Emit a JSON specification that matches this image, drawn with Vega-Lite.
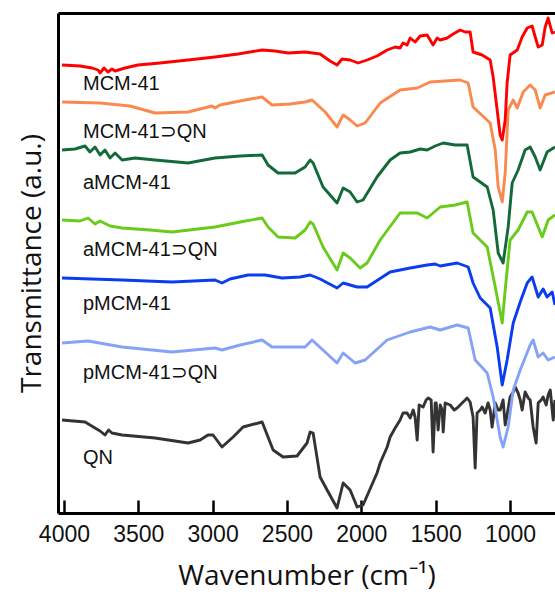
{
  "$schema": "https://vega.github.io/schema/vega-lite/v6.json",
  "width": 497,
  "height": 500,
  "autosize": {"type": "none"},
  "padding": {"left": 58, "top": 13, "right": 0, "bottom": 91},
  "background": "white",
  "config": {"view": {"stroke": null}},
  "datasets": {
    "labels": [
      {"t": "MCM-41", "x": 3872, "y": 429},
      {"t": "MCM-41⊃QN", "x": 3872, "y": 381},
      {"t": "aMCM-41", "x": 3872, "y": 330},
      {"t": "aMCM-41⊃QN", "x": 3872, "y": 263},
      {"t": "pMCM-41", "x": 3872, "y": 209},
      {"t": "pMCM-41⊃QN", "x": 3872, "y": 140},
      {"t": "QN", "x": 3872, "y": 55}
    ],
    "spectra": [
      {"s":"QN","x":4013,"y":93},{"s":"QN","x":3858,"y":91},{"s":"QN","x":3791,"y":85},{"s":"QN","x":3757,"y":82},{"s":"QN","x":3724,"y":78},{"s":"QN","x":3700,"y":83},{"s":"QN","x":3677,"y":80},{"s":"QN","x":3609,"y":78},{"s":"QN","x":3387,"y":75},{"s":"QN","x":3165,"y":70},{"s":"QN","x":3084,"y":73},{"s":"QN","x":3031,"y":78},{"s":"QN","x":2997,"y":78},{"s":"QN","x":2937,"y":66},{"s":"QN","x":2862,"y":76},{"s":"QN","x":2795,"y":86},{"s":"QN","x":2667,"y":91},{"s":"QN","x":2593,"y":63},{"s":"QN","x":2526,"y":56},{"s":"QN","x":2432,"y":57},{"s":"QN","x":2365,"y":70},{"s":"QN","x":2344,"y":81},{"s":"QN","x":2324,"y":80},{"s":"QN","x":2277,"y":36},{"s":"QN","x":2230,"y":23},{"s":"QN","x":2163,"y":5},{"s":"QN","x":2122,"y":30},{"s":"QN","x":2075,"y":23},{"s":"QN","x":2028,"y":6},{"s":"QN","x":1988,"y":8},{"s":"QN","x":1894,"y":40},{"s":"QN","x":1873,"y":50},{"s":"QN","x":1826,"y":66},{"s":"QN","x":1806,"y":76},{"s":"QN","x":1772,"y":85},{"s":"QN","x":1739,"y":93},{"s":"QN","x":1719,"y":100},{"s":"QN","x":1692,"y":100},{"s":"QN","x":1671,"y":95},{"s":"QN","x":1651,"y":103},{"s":"QN","x":1638,"y":96},{"s":"QN","x":1624,"y":73},{"s":"QN","x":1611,"y":108},{"s":"QN","x":1584,"y":106},{"s":"QN","x":1564,"y":113},{"s":"QN","x":1550,"y":115},{"s":"QN","x":1530,"y":113},{"s":"QN","x":1517,"y":61},{"s":"QN","x":1503,"y":110},{"s":"QN","x":1496,"y":110},{"s":"QN","x":1483,"y":83},{"s":"QN","x":1469,"y":108},{"s":"QN","x":1456,"y":103},{"s":"QN","x":1449,"y":81},{"s":"QN","x":1436,"y":110},{"s":"QN","x":1402,"y":108},{"s":"QN","x":1375,"y":103},{"s":"QN","x":1355,"y":105},{"s":"QN","x":1335,"y":108},{"s":"QN","x":1322,"y":110},{"s":"QN","x":1301,"y":113},{"s":"QN","x":1288,"y":115},{"s":"QN","x":1268,"y":111},{"s":"QN","x":1248,"y":96},{"s":"QN","x":1234,"y":45},{"s":"QN","x":1221,"y":100},{"s":"QN","x":1200,"y":103},{"s":"QN","x":1187,"y":106},{"s":"QN","x":1167,"y":100},{"s":"QN","x":1147,"y":110},{"s":"QN","x":1133,"y":103},{"s":"QN","x":1120,"y":86},{"s":"QN","x":1099,"y":110},{"s":"QN","x":1079,"y":103},{"s":"QN","x":1066,"y":103},{"s":"QN","x":1046,"y":113},{"s":"QN","x":1032,"y":88},{"s":"QN","x":1019,"y":98},{"s":"QN","x":999,"y":116},{"s":"QN","x":978,"y":121},{"s":"QN","x":965,"y":126},{"s":"QN","x":945,"y":120},{"s":"QN","x":931,"y":113},{"s":"QN","x":918,"y":103},{"s":"QN","x":898,"y":121},{"s":"QN","x":877,"y":115},{"s":"QN","x":864,"y":113},{"s":"QN","x":844,"y":86},{"s":"QN","x":824,"y":70},{"s":"QN","x":810,"y":110},{"s":"QN","x":790,"y":113},{"s":"QN","x":777,"y":116},{"s":"QN","x":756,"y":108},{"s":"QN","x":743,"y":118},{"s":"QN","x":729,"y":123},{"s":"QN","x":709,"y":93},{"s":"QN","x":697,"y":113},

      {"s":"pMCM-41⊃QN","x":4013,"y":170},{"s":"pMCM-41⊃QN","x":3838,"y":172},{"s":"pMCM-41⊃QN","x":3609,"y":166},{"s":"pMCM-41⊃QN","x":3273,"y":161},{"s":"pMCM-41⊃QN","x":2984,"y":165},{"s":"pMCM-41⊃QN","x":2937,"y":163},{"s":"pMCM-41⊃QN","x":2815,"y":168},{"s":"pMCM-41⊃QN","x":2667,"y":173},{"s":"pMCM-41⊃QN","x":2600,"y":166},{"s":"pMCM-41⊃QN","x":2378,"y":166},{"s":"pMCM-41⊃QN","x":2331,"y":173},{"s":"pMCM-41⊃QN","x":2163,"y":150},{"s":"pMCM-41⊃QN","x":2122,"y":160},{"s":"pMCM-41⊃QN","x":2041,"y":150},{"s":"pMCM-41⊃QN","x":1974,"y":153},{"s":"pMCM-41⊃QN","x":1826,"y":173},{"s":"pMCM-41⊃QN","x":1671,"y":181},{"s":"pMCM-41⊃QN","x":1537,"y":186},{"s":"pMCM-41⊃QN","x":1469,"y":183},{"s":"pMCM-41⊃QN","x":1355,"y":188},{"s":"pMCM-41⊃QN","x":1281,"y":185},{"s":"pMCM-41⊃QN","x":1234,"y":153},{"s":"pMCM-41⊃QN","x":1153,"y":140},{"s":"pMCM-41⊃QN","x":1113,"y":116},{"s":"pMCM-41⊃QN","x":1066,"y":76},{"s":"pMCM-41⊃QN","x":1046,"y":66},{"s":"pMCM-41⊃QN","x":1012,"y":86},{"s":"pMCM-41⊃QN","x":978,"y":123},{"s":"pMCM-41⊃QN","x":931,"y":143},{"s":"pMCM-41⊃QN","x":864,"y":168},{"s":"pMCM-41⊃QN","x":844,"y":173},{"s":"pMCM-41⊃QN","x":810,"y":156},{"s":"pMCM-41⊃QN","x":777,"y":160},{"s":"pMCM-41⊃QN","x":743,"y":153},{"s":"pMCM-41⊃QN","x":697,"y":156},

      {"s":"pMCM-41","x":4013,"y":235},{"s":"pMCM-41","x":3609,"y":233},{"s":"pMCM-41","x":3273,"y":231},{"s":"pMCM-41","x":2984,"y":233},{"s":"pMCM-41","x":2937,"y":230},{"s":"pMCM-41","x":2883,"y":234},{"s":"pMCM-41","x":2762,"y":238},{"s":"pMCM-41","x":2647,"y":238},{"s":"pMCM-41","x":2533,"y":235},{"s":"pMCM-41","x":2412,"y":236},{"s":"pMCM-41","x":2344,"y":238},{"s":"pMCM-41","x":2277,"y":234},{"s":"pMCM-41","x":2163,"y":225},{"s":"pMCM-41","x":2122,"y":230},{"s":"pMCM-41","x":2028,"y":226},{"s":"pMCM-41","x":1961,"y":226},{"s":"pMCM-41","x":1806,"y":241},{"s":"pMCM-41","x":1671,"y":245},{"s":"pMCM-41","x":1557,"y":248},{"s":"pMCM-41","x":1503,"y":249},{"s":"pMCM-41","x":1469,"y":247},{"s":"pMCM-41","x":1355,"y":250},{"s":"pMCM-41","x":1281,"y":246},{"s":"pMCM-41","x":1248,"y":230},{"s":"pMCM-41","x":1200,"y":215},{"s":"pMCM-41","x":1133,"y":205},{"s":"pMCM-41","x":1086,"y":166},{"s":"pMCM-41","x":1052,"y":128},{"s":"pMCM-41","x":1019,"y":153},{"s":"pMCM-41","x":978,"y":190},{"s":"pMCM-41","x":931,"y":211},{"s":"pMCM-41","x":884,"y":230},{"s":"pMCM-41","x":851,"y":236},{"s":"pMCM-41","x":810,"y":216},{"s":"pMCM-41","x":777,"y":224},{"s":"pMCM-41","x":750,"y":216},{"s":"pMCM-41","x":716,"y":221},{"s":"pMCM-41","x":697,"y":208},

      {"s":"aMCM-41⊃QN","x":4013,"y":293},{"s":"aMCM-41⊃QN","x":3892,"y":292},{"s":"aMCM-41⊃QN","x":3838,"y":295},{"s":"aMCM-41⊃QN","x":3791,"y":289},{"s":"aMCM-41⊃QN","x":3757,"y":292},{"s":"aMCM-41⊃QN","x":3690,"y":287},{"s":"aMCM-41⊃QN","x":3609,"y":285},{"s":"aMCM-41⊃QN","x":3421,"y":283},{"s":"aMCM-41⊃QN","x":3273,"y":281},{"s":"aMCM-41⊃QN","x":2984,"y":286},{"s":"aMCM-41⊃QN","x":2815,"y":291},{"s":"aMCM-41⊃QN","x":2667,"y":295},{"s":"aMCM-41⊃QN","x":2627,"y":286},{"s":"aMCM-41⊃QN","x":2560,"y":276},{"s":"aMCM-41⊃QN","x":2445,"y":275},{"s":"aMCM-41⊃QN","x":2378,"y":283},{"s":"aMCM-41⊃QN","x":2344,"y":291},{"s":"aMCM-41⊃QN","x":2324,"y":289},{"s":"aMCM-41⊃QN","x":2257,"y":266},{"s":"aMCM-41⊃QN","x":2163,"y":243},{"s":"aMCM-41⊃QN","x":2122,"y":260},{"s":"aMCM-41⊃QN","x":2075,"y":255},{"s":"aMCM-41⊃QN","x":2008,"y":245},{"s":"aMCM-41⊃QN","x":1961,"y":250},{"s":"aMCM-41⊃QN","x":1873,"y":273},{"s":"aMCM-41⊃QN","x":1739,"y":300},{"s":"aMCM-41⊃QN","x":1624,"y":300},{"s":"aMCM-41⊃QN","x":1557,"y":295},{"s":"aMCM-41⊃QN","x":1469,"y":306},{"s":"aMCM-41⊃QN","x":1369,"y":308},{"s":"aMCM-41⊃QN","x":1288,"y":311},{"s":"aMCM-41⊃QN","x":1248,"y":280},{"s":"aMCM-41⊃QN","x":1153,"y":266},{"s":"aMCM-41⊃QN","x":1099,"y":226},{"s":"aMCM-41⊃QN","x":1052,"y":190},{"s":"aMCM-41⊃QN","x":1032,"y":223},{"s":"aMCM-41⊃QN","x":999,"y":273},{"s":"aMCM-41⊃QN","x":945,"y":283},{"s":"aMCM-41⊃QN","x":884,"y":301},{"s":"aMCM-41⊃QN","x":851,"y":301},{"s":"aMCM-41⊃QN","x":783,"y":276},{"s":"aMCM-41⊃QN","x":743,"y":293},{"s":"aMCM-41⊃QN","x":697,"y":298},

      {"s":"aMCM-41","x":4013,"y":363},{"s":"aMCM-41","x":3926,"y":364},{"s":"aMCM-41","x":3858,"y":367},{"s":"aMCM-41","x":3825,"y":361},{"s":"aMCM-41","x":3791,"y":366},{"s":"aMCM-41","x":3757,"y":358},{"s":"aMCM-41","x":3724,"y":363},{"s":"aMCM-41","x":3690,"y":355},{"s":"aMCM-41","x":3656,"y":360},{"s":"aMCM-41","x":3609,"y":353},{"s":"aMCM-41","x":3522,"y":355},{"s":"aMCM-41","x":3387,"y":353},{"s":"aMCM-41","x":3165,"y":350},{"s":"aMCM-41","x":2984,"y":355},{"s":"aMCM-41","x":2815,"y":357},{"s":"aMCM-41","x":2667,"y":358},{"s":"aMCM-41","x":2627,"y":348},{"s":"aMCM-41","x":2560,"y":340},{"s":"aMCM-41","x":2445,"y":340},{"s":"aMCM-41","x":2378,"y":346},{"s":"aMCM-41","x":2344,"y":353},{"s":"aMCM-41","x":2324,"y":350},{"s":"aMCM-41","x":2257,"y":326},{"s":"aMCM-41","x":2163,"y":310},{"s":"aMCM-41","x":2122,"y":325},{"s":"aMCM-41","x":2075,"y":321},{"s":"aMCM-41","x":2028,"y":311},{"s":"aMCM-41","x":1988,"y":313},{"s":"aMCM-41","x":1894,"y":336},{"s":"aMCM-41","x":1806,"y":353},{"s":"aMCM-41","x":1739,"y":360},{"s":"aMCM-41","x":1671,"y":361},{"s":"aMCM-41","x":1604,"y":364},{"s":"aMCM-41","x":1557,"y":363},{"s":"aMCM-41","x":1503,"y":367},{"s":"aMCM-41","x":1449,"y":370},{"s":"aMCM-41","x":1369,"y":368},{"s":"aMCM-41","x":1288,"y":368},{"s":"aMCM-41","x":1248,"y":336},{"s":"aMCM-41","x":1153,"y":326},{"s":"aMCM-41","x":1113,"y":303},{"s":"aMCM-41","x":1079,"y":260},{"s":"aMCM-41","x":1046,"y":250},{"s":"aMCM-41","x":1012,"y":286},{"s":"aMCM-41","x":985,"y":330},{"s":"aMCM-41","x":945,"y":343},{"s":"aMCM-41","x":898,"y":363},{"s":"aMCM-41","x":864,"y":366},{"s":"aMCM-41","x":830,"y":356},{"s":"aMCM-41","x":797,"y":343},{"s":"aMCM-41","x":750,"y":361},{"s":"aMCM-41","x":697,"y":366},

      {"s":"MCM-41⊃QN","x":4013,"y":411},{"s":"MCM-41⊃QN","x":3757,"y":410},{"s":"MCM-41⊃QN","x":3556,"y":407},{"s":"MCM-41⊃QN","x":3387,"y":400},{"s":"MCM-41⊃QN","x":3165,"y":401},{"s":"MCM-41⊃QN","x":3004,"y":407},{"s":"MCM-41⊃QN","x":2984,"y":405},{"s":"MCM-41⊃QN","x":2950,"y":408},{"s":"MCM-41⊃QN","x":2782,"y":413},{"s":"MCM-41⊃QN","x":2667,"y":416},{"s":"MCM-41⊃QN","x":2600,"y":408},{"s":"MCM-41⊃QN","x":2479,"y":409},{"s":"MCM-41⊃QN","x":2378,"y":411},{"s":"MCM-41⊃QN","x":2331,"y":413},{"s":"MCM-41⊃QN","x":2243,"y":401},{"s":"MCM-41⊃QN","x":2163,"y":386},{"s":"MCM-41⊃QN","x":2122,"y":398},{"s":"MCM-41⊃QN","x":2075,"y":393},{"s":"MCM-41⊃QN","x":2028,"y":387},{"s":"MCM-41⊃QN","x":1974,"y":390},{"s":"MCM-41⊃QN","x":1873,"y":410},{"s":"MCM-41⊃QN","x":1739,"y":423},{"s":"MCM-41⊃QN","x":1624,"y":425},{"s":"MCM-41⊃QN","x":1537,"y":431},{"s":"MCM-41⊃QN","x":1335,"y":433},{"s":"MCM-41⊃QN","x":1281,"y":430},{"s":"MCM-41⊃QN","x":1248,"y":406},{"s":"MCM-41⊃QN","x":1133,"y":390},{"s":"MCM-41⊃QN","x":1099,"y":363},{"s":"MCM-41⊃QN","x":1079,"y":326},{"s":"MCM-41⊃QN","x":1052,"y":311},{"s":"MCM-41⊃QN","x":1032,"y":340},{"s":"MCM-41⊃QN","x":1012,"y":403},{"s":"MCM-41⊃QN","x":978,"y":413},{"s":"MCM-41⊃QN","x":951,"y":405},{"s":"MCM-41⊃QN","x":911,"y":421},{"s":"MCM-41⊃QN","x":864,"y":428},{"s":"MCM-41⊃QN","x":830,"y":423},{"s":"MCM-41⊃QN","x":797,"y":405},{"s":"MCM-41⊃QN","x":763,"y":418},{"s":"MCM-41⊃QN","x":697,"y":421},

      {"s":"MCM-41","x":4013,"y":448},{"s":"MCM-41","x":3892,"y":447},{"s":"MCM-41","x":3811,"y":445},{"s":"MCM-41","x":3771,"y":443},{"s":"MCM-41","x":3757,"y":440},{"s":"MCM-41","x":3730,"y":445},{"s":"MCM-41","x":3704,"y":441},{"s":"MCM-41","x":3677,"y":444},{"s":"MCM-41","x":3656,"y":442},{"s":"MCM-41","x":3589,"y":445},{"s":"MCM-41","x":3502,"y":448},{"s":"MCM-41","x":3354,"y":450},{"s":"MCM-41","x":3165,"y":453},{"s":"MCM-41","x":2984,"y":456},{"s":"MCM-41","x":2829,"y":459},{"s":"MCM-41","x":2667,"y":463},{"s":"MCM-41","x":2580,"y":462},{"s":"MCM-41","x":2492,"y":460},{"s":"MCM-41","x":2378,"y":461},{"s":"MCM-41","x":2277,"y":459},{"s":"MCM-41","x":2210,"y":452},{"s":"MCM-41","x":2163,"y":448},{"s":"MCM-41","x":2129,"y":454},{"s":"MCM-41","x":2075,"y":453},{"s":"MCM-41","x":2021,"y":450},{"s":"MCM-41","x":1961,"y":453},{"s":"MCM-41","x":1894,"y":457},{"s":"MCM-41","x":1826,"y":463},{"s":"MCM-41","x":1772,"y":466},{"s":"MCM-41","x":1739,"y":465},{"s":"MCM-41","x":1719,"y":470},{"s":"MCM-41","x":1692,"y":468},{"s":"MCM-41","x":1671,"y":475},{"s":"MCM-41","x":1638,"y":471},{"s":"MCM-41","x":1604,"y":477},{"s":"MCM-41","x":1557,"y":478},{"s":"MCM-41","x":1537,"y":473},{"s":"MCM-41","x":1517,"y":468},{"s":"MCM-41","x":1490,"y":475},{"s":"MCM-41","x":1469,"y":473},{"s":"MCM-41","x":1422,"y":475},{"s":"MCM-41","x":1382,"y":479},{"s":"MCM-41","x":1335,"y":483},{"s":"MCM-41","x":1301,"y":481},{"s":"MCM-41","x":1268,"y":481},{"s":"MCM-41","x":1248,"y":461},{"s":"MCM-41","x":1187,"y":458},{"s":"MCM-41","x":1133,"y":453},{"s":"MCM-41","x":1113,"y":436},{"s":"MCM-41","x":1086,"y":403},{"s":"MCM-41","x":1066,"y":378},{"s":"MCM-41","x":1052,"y":373},{"s":"MCM-41","x":1032,"y":393},{"s":"MCM-41","x":1019,"y":430},{"s":"MCM-41","x":999,"y":458},{"s":"MCM-41","x":951,"y":463},{"s":"MCM-41","x":918,"y":476},{"s":"MCM-41","x":884,"y":485},{"s":"MCM-41","x":851,"y":487},{"s":"MCM-41","x":830,"y":476},{"s":"MCM-41","x":810,"y":466},{"s":"MCM-41","x":783,"y":468},{"s":"MCM-41","x":763,"y":486},{"s":"MCM-41","x":743,"y":495},{"s":"MCM-41","x":716,"y":480},{"s":"MCM-41","x":697,"y":481}
    ]
  },
  "layer": [
    {
      "data": {"name": "spectra"},
      "mark": {"type": "line", "strokeWidth": 2.9, "clip": true, "strokeJoin": "round"},
      "encoding": {
        "x": {
          "field": "x", "type": "quantitative",
          "scale": {"domain": [697, 4040], "reverse": true, "nice": false, "zero": false},
          "axis": {
            "orient": "bottom",
            "values": [1000, 1500, 2000, 2500, 3000, 3500, 4000],
            "format": "d",
            "grid": false,
            "tickSize": -13,
            "tickWidth": 2.5,
            "tickColor": "black",
            "domainColor": "black",
            "domainWidth": 3,
            "labelFont": "Liberation Sans",
            "labelFontSize": 23,
            "labelColor": "#111",
            "labelPadding": 23,
            "labelFlush": false,
            "labelOverlap": false,
            "title": "Wavenumber (cm⁻¹)",
            "titleFont": "Open Sans",
            "titleFontSize": 28,
            "titleFontWeight": "normal",
            "titleColor": "#111",
            "titlePadding": 16
          }
        },
        "y": {
          "field": "y", "type": "quantitative",
          "scale": {"domain": [0, 500], "nice": false, "zero": false},
          "axis": {
            "orient": "left",
            "labels": false,
            "ticks": false,
            "grid": false,
            "domainColor": "black",
            "domainWidth": 3,
            "title": "Transmittance (a.u.)",
            "titleFont": "Open Sans",
            "titleFontSize": 28,
            "titleFontWeight": "normal",
            "titleColor": "#111",
            "titlePadding": 12
          }
        },
        "color": {
          "field": "s", "type": "nominal", "legend": null,
          "scale": {
            "domain": ["QN", "pMCM-41⊃QN", "pMCM-41", "aMCM-41⊃QN", "aMCM-41", "MCM-41⊃QN", "MCM-41"],
            "range": ["#333333", "#85a2f7", "#0a3cf0", "#6acb1a", "#116a38", "#f98a4f", "#ff0000"]
          }
        }
      }
    },
    {
      "data": {"name": "labels"},
      "mark": {"type": "text", "align": "left", "baseline": "middle", "font": "Liberation Sans", "fontSize": 20, "color": "#111"},
      "encoding": {
        "x": {
          "field": "x", "type": "quantitative",
          "axis": {"orient": "top", "labels": false, "ticks": false, "grid": false, "domainColor": "black", "domainWidth": 3, "title": null}
        },
        "y": {"field": "y", "type": "quantitative", "axis": null},
        "text": {"field": "t"}
      }
    }
  ],
  "resolve": {"axis": {"x": "independent", "y": "independent"}}
}
